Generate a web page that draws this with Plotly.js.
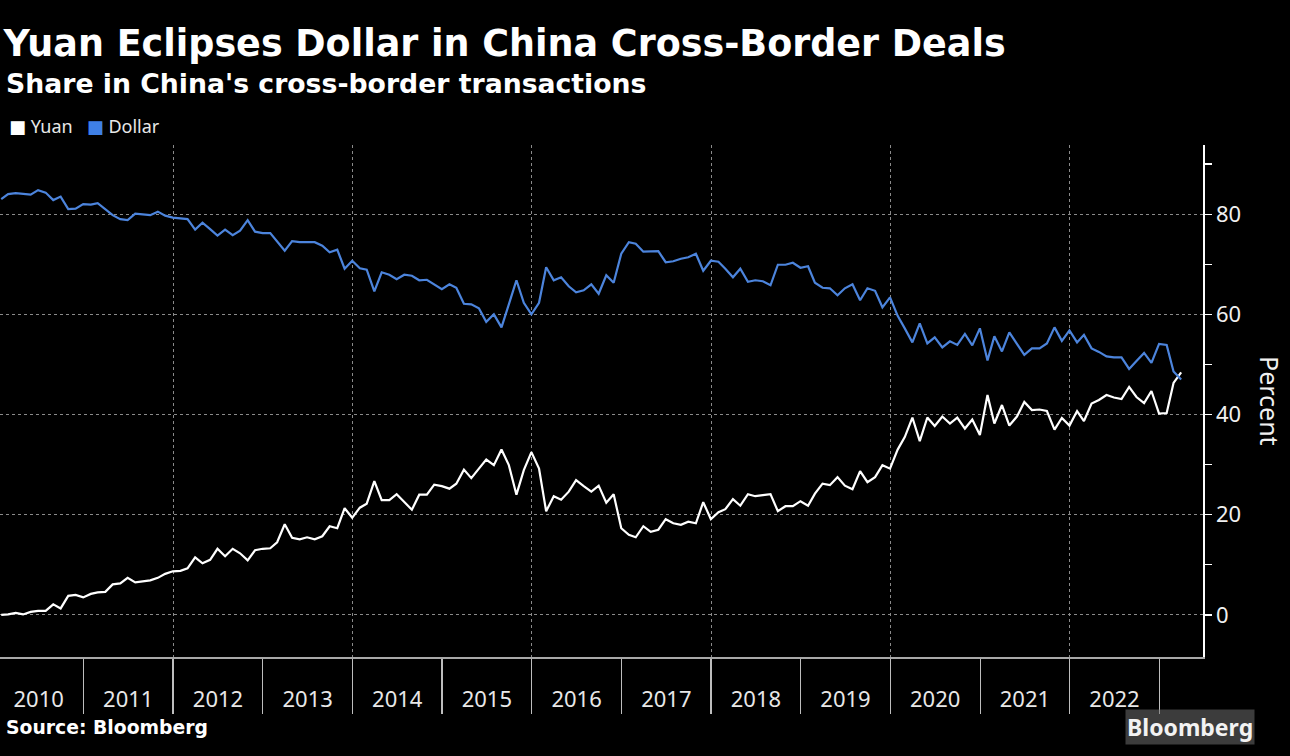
<!DOCTYPE html>
<html>
<head>
<meta charset="utf-8">
<script src="https://cdn.plot.ly/plotly-3.0.1.min.js"></script>
<style>
html,body{margin:0;padding:0;background:#000;}
#chart{width:1290px;height:756px;}
</style>
</head>
<body>
<div id="chart"></div>
<script>
// Monthly observations, Jan 2010 .. Mar 2023 (month-end)
const startYear = 2010;
const startMonth = 1;
const monthCount = 159;

const yuanShare = [
  0.0, 0.1, 0.4, 0.1, 0.6, 0.8, 0.8, 2.1, 1.3, 3.8, 4.0, 3.5,
  4.2, 4.5, 4.6, 6.1, 6.3, 7.4, 6.5, 6.7, 6.9, 7.4, 8.2, 8.7,
  8.8, 9.3, 11.5, 10.3, 11.0, 13.2, 11.7, 13.2, 12.3, 10.9, 12.9, 13.2,
  13.3, 14.5, 18.1, 15.4, 15.1, 15.5, 15.1, 15.7, 17.7, 17.3, 21.3, 19.4,
  21.4, 22.2, 26.7, 22.9, 22.9, 24.1, 22.5, 21.0, 24.0, 24.0, 26.0, 25.7,
  25.2, 26.2, 29.0, 27.3, 29.2, 31.0, 29.9, 33.0, 29.9, 24.0, 28.9, 32.5,
  29.2, 20.7, 23.7, 23.0, 24.6, 26.9, 25.7, 24.6, 25.8, 22.4, 24.1, 17.3,
  16.0, 15.5, 17.7, 16.6, 17.0, 19.1, 18.3, 18.0, 18.6, 18.3, 22.5, 19.1,
  20.5, 21.1, 23.1, 21.8, 24.1, 23.7, 23.9, 24.1, 20.7, 21.7, 21.7, 22.7,
  21.8, 24.2, 26.2, 25.9, 27.5, 25.8, 25.1, 28.7, 26.5, 27.5, 29.9, 29.2,
  33.0, 35.5, 39.4, 34.7, 39.4, 37.7, 39.6, 38.2, 39.4, 37.2, 39.0, 35.9,
  43.9, 38.2, 41.9, 37.8, 39.6, 42.5, 40.9, 41.0, 40.7, 37.0, 39.3, 37.8,
  40.7, 38.7, 42.2, 42.9, 43.9, 43.4, 43.1, 45.5, 43.5, 42.3, 44.7, 40.2,
  40.3, 46.3, 48.4
];

const dollarShare = [
  83.0, 84.0, 84.2, 84.0, 83.9, 84.8, 84.3, 82.8, 83.5, 81.0, 81.1, 82.0,
  81.9, 82.2, 81.0, 79.8, 79.0, 78.8, 80.1, 80.0, 79.8, 80.5, 79.7, 79.3,
  79.1, 79.0, 76.9, 78.3, 77.0, 75.7, 76.9, 75.8, 76.7, 78.8, 76.5, 76.2,
  76.2, 74.5, 72.7, 74.6, 74.4, 74.4, 74.4, 73.7, 72.4, 72.9, 69.1, 70.7,
  69.2, 68.9, 64.6, 68.4, 67.9, 67.0, 67.9, 67.7, 66.8, 66.9, 66.0, 65.0,
  66.0, 65.3, 62.1, 62.0, 61.2, 58.5, 60.0, 57.4, 62.0, 66.8, 62.3, 60.0,
  62.3, 69.4, 66.8, 67.4, 65.6, 64.4, 64.8, 66.0, 64.1, 67.8, 66.3, 72.1,
  74.4, 74.1, 72.5, 72.5, 72.6, 70.4, 70.6, 71.1, 71.4, 72.1, 68.7, 70.7,
  70.5, 69.1, 67.4, 69.1, 66.5, 66.8, 66.6, 65.8, 69.9, 69.9, 70.3, 69.3,
  69.6, 66.3, 65.3, 65.2, 63.8, 65.2, 66.0, 62.8, 65.2, 64.7, 61.4, 63.4,
  59.7, 57.2, 54.4, 58.2, 54.2, 55.4, 53.4, 54.6, 53.9, 56.1, 53.8, 57.2,
  50.8, 55.6, 52.6, 56.4, 54.0, 51.9, 53.2, 53.2, 54.2, 57.4, 54.7, 56.8,
  54.4, 55.9, 53.2, 52.5, 51.6, 51.4, 51.4, 49.1, 50.7, 52.3, 50.3, 54.1,
  53.9, 48.6, 47.0
];

const seriesNames = ['Yuan', 'Dollar'];
const seriesColors = ['#ffffff', '#4c84dc'];

// month-end dates
const months = [];
for (let k = 0; k < monthCount; k++) {
  const d = new Date(Date.UTC(startYear, startMonth - 1 + k + 1, 0));
  months.push(d.toISOString().slice(0, 10));
}

const xRange = ['2010-01-26', '2023-06-28'];
const fontFam = 'Noto Sans, DejaVu Sans, sans-serif';
const headFam = 'DejaVu Sans, Verdana, sans-serif';

const traces = [
  {
    x: months, y: dollarShare, type: 'scatter', mode: 'lines',
    name: seriesNames[1], xaxis: 'x2', yaxis: 'y',
    line: {color: seriesColors[1], width: 2.2}, showlegend: false
  },
  {
    x: months, y: yuanShare, type: 'scatter', mode: 'lines',
    name: seriesNames[0], xaxis: 'x', yaxis: 'y',
    line: {color: seriesColors[0], width: 2.2}, showlegend: false
  }
];

const layout = {
  width: 1290, height: 756,
  paper_bgcolor: '#000', plot_bgcolor: '#000',
  margin: {l: 0, r: 87, t: 145, b: 99, pad: 0},
  showlegend: false,
  title: {
    text: '<b>Yuan Eclipses Dollar in China Cross-Border Deals</b>',
    x: 0.003, xanchor: 'left', xref: 'paper',
    y: 1 - 43 / 756, yref: 'container', yanchor: 'middle',
    font: {family: headFam, size: 36.5, color: '#ffffff'}
  },
  xaxis: {
    type: 'date', range: xRange,
    tick0: '2010-01-01', dtick: 'M12', tickformat: '%Y',
    ticklabelmode: 'period',
    ticks: 'outside', ticklen: 55, tickwidth: 1.2, tickcolor: '#bdbdbd',
    ticklabelstandoff: -33,
    showline: true, linecolor: '#a8a8a8', linewidth: 2,
    showgrid: false, zeroline: false,
    tickfont: {family: fontFam, size: 22, color: '#e8e8e8'},
    fixedrange: true
  },
  xaxis2: {
    type: 'date', range: xRange, overlaying: 'x', anchor: 'y',
    tick0: '2012-01-01', dtick: 'M24',
    showgrid: true, gridcolor: '#8a8a8a', griddash: 'dot', gridwidth: 1,
    showticklabels: false, ticks: '', showline: false, zeroline: false,
    fixedrange: true
  },
  yaxis: {
    side: 'right', range: [-8.4, 93.8],
    tick0: 0, dtick: 20,
    ticks: 'outside', ticklen: 7, tickwidth: 1.2, tickcolor: '#ffffff',
    showline: true, linecolor: '#ffffff', linewidth: 1.5,
    showgrid: true, gridcolor: '#8a8a8a', griddash: 'dot', gridwidth: 1,
    zeroline: false,
    minor: {dtick: 10, tick0: 0, ticks: 'outside', ticklen: 7, tickwidth: 1.2, tickcolor: '#ffffff', showgrid: false},
    tickfont: {family: fontFam, size: 22, color: '#f0f0f0'},
    fixedrange: true
  },
  annotations: [
    {
      text: "<b>Share in China's cross-border transactions</b>",
      xref: 'paper', yref: 'paper', x: 0.003, y: 1, xanchor: 'left', yanchor: 'middle',
      yshift: 145 - 83, showarrow: false,
      font: {family: headFam, size: 26.7, color: '#ffffff'}
    },
    {
      text: "<span style='color:#ffffff'>■</span> Yuan   <span style='color:#3f80e6'>■</span> Dollar",
      xref: 'paper', yref: 'paper', x: 0.006, y: 1, xanchor: 'left', yanchor: 'middle',
      yshift: 145 - 126, showarrow: false,
      font: {family: fontFam, size: 18, color: '#e8e8e8'}
    },
    {
      text: 'Percent',
      xref: 'paper', yref: 'paper', x: 1, y: 0.5, xanchor: 'center', yanchor: 'middle',
      xshift: 1270 - 1203, yshift: 0, textangle: 90, showarrow: false,
      font: {family: fontFam, size: 25, color: '#f0f0f0'}
    },
    {
      text: '<b>Source: Bloomberg</b>',
      xref: 'paper', yref: 'paper', x: 0.003, y: 0, xanchor: 'left', yanchor: 'middle',
      yshift: -(727 - 657), showarrow: false,
      font: {family: headFam, size: 18.8, color: '#ffffff'}
    },
    {
      text: '<b>Bloomberg</b>',
      xref: 'paper', yref: 'paper', x: 1, y: 0, xanchor: 'right', yanchor: 'middle',
      xshift: 1255 - 1203, yshift: -(727 - 657), showarrow: false,
      bgcolor: 'rgba(110,110,110,0.55)',
      font: {family: fontFam, size: 23, color: '#f2f2f2'}
    }
  ]
};

Plotly.newPlot('chart', traces, layout, {displayModeBar: false, staticPlot: true});
</script>
</body>
</html>
